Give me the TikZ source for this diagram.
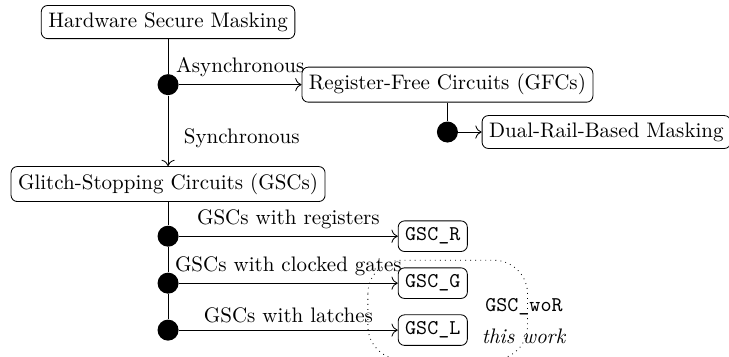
\documentclass[tikz,border=0pt]{standalone}
\usepackage{tikz}
\usetikzlibrary{arrows.meta,positioning,calc}
\tikzset{
  box/.style={draw,rounded corners=3pt,align=center},
  dot/.style={circle,fill,inner sep=0pt,minimum size=10pt},
  ar/.style={-{To[length=3pt]}},
}
\begin{document}
\begin{tikzpicture}
  \useasboundingbox (-80pt,10.5pt) rectangle (267pt,-159pt);
  \node[box] (hsm) {Hardware Secure Masking};
  \node[dot,below=5.8mm of hsm] (d1) {};
  \node[box,right=20.5mm of d1] (rfc) {Register-Free Circuits (GFCs)};
  \node[dot,below=3.1mm of rfc] (d2) {};
  \node[box,right=3.9mm of d2] (drb) {Dual-Rail-Based Masking};
  \node[box,below=11.8mm of d1] (gsc) {Glitch-Stopping Circuits (GSCs)};
  \node[dot,below=3.9mm of gsc] (d3) {};  \node[dot,below=4.2mm of d3] (d4) {};  \node[dot,below=4.2mm of d4] (d5) {};
  \node[box,right=36.6mm of d3] (gr) {\texttt{GSC\_R}};
  \node[box,right=36.6mm of d4] (gg) {\texttt{GSC\_G}};
  \node[box,right=36.6mm of d5] (gl) {\texttt{GSC\_L}};
  \node[align=center] (wor) at ($(gl.east)+(9.4mm,1.5mm)$) {\texttt{GSC\_woR}\\[3pt]\textit{this work}};
  \draw (hsm) -- (d1);
  \draw[ar] (d1) -- node[midway,above] {Asynchronous} (rfc);
  \draw[ar] (d1) -- node[pos=0.6,right=4pt] {Synchronous} (gsc);
  \draw (rfc) -- (d2);
  \draw[ar] (d2) -- (drb);
  \draw (gsc) -- (d3) -- (d4) -- (d5);
  \draw[ar] (d3) -- node[midway,above] {GSCs with registers} (gr);
  \draw[ar] (d4) -- node[midway,above] {GSCs with clocked gates} (gg);
  \draw[ar] (d5) -- node[midway,above] {GSCs with latches} (gl);
  % this work
  \draw[dotted,rounded corners=16pt] ($(gg.north west)+(-5mm,1.2mm)$) rectangle ($(gl.south east)+(10mm,-2.3mm)$);
\end{tikzpicture}
\end{document}
